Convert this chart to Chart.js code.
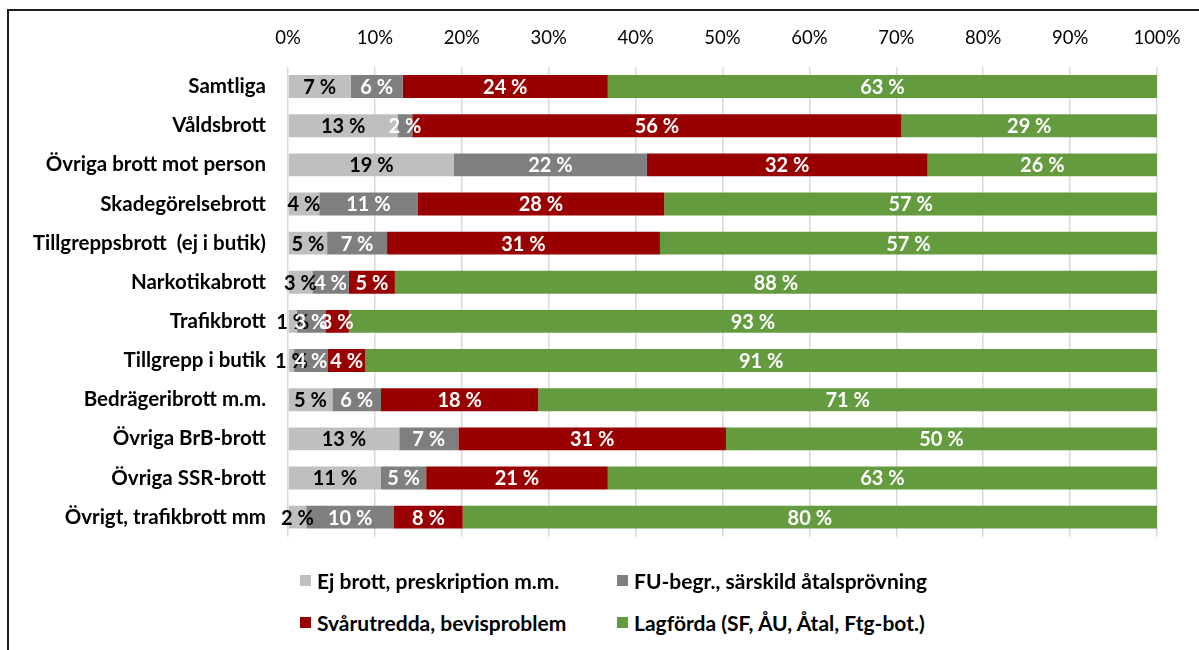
<!DOCTYPE html>
<html>
<head>
<meta charset="utf-8">
<script src="https://cdn.jsdelivr.net/npm/chart.js@4"></script>
<style>
  html, body { margin: 0; padding: 0; background: #fff; overflow: hidden; }
  #wrap { position: relative; width: 1199px; height: 650px; overflow: hidden; }
  #frame { position: absolute; left: 7px; top: 9px; width: 1400px; height: 900px; border: 2px solid #1e1e1e; box-sizing: border-box; }
  #c { position: absolute; left: 0; top: 0; }
  .lg { position: absolute; font-family: Lato, "Open Sans", sans-serif; font-weight: bold; font-size: 21px; color: #000; white-space: nowrap; line-height: 24px; }
  .lg span.box { position: absolute; left: 0; top: 6px; width: 11px; height: 11px; }
  .lg span.txt { position: absolute; left: 17px; top: 0; }
</style>
</head>
<body>
<div id="wrap">
  <div id="frame"></div>
  <canvas id="c" width="1199" height="571"></canvas>
  <div id="legend"></div>
</div>
<script>
const categories = [
  "Samtliga",
  "Våldsbrott",
  "Övriga brott mot person",
  "Skadegörelsebrott",
  "Tillgreppsbrott  (ej i butik)",
  "Narkotikabrott",
  "Trafikbrott",
  "Tillgrepp i butik",
  "Bedrägeribrott m.m.",
  "Övriga BrB-brott",
  "Övriga SSR-brott",
  "Övrigt, trafikbrott mm"
];
const seriesNames = [
  "Ej brott, preskription m.m.",
  "FU-begr., särskild åtalsprövning",
  "Svårutredda, bevisproblem",
  "Lagförda (SF, ÅU, Åtal, Ftg-bot.)"
];
const ejBrott     = [7.2, 12.6, 19.1, 3.6, 4.5, 2.8, 1.0, 0.7, 5.1, 12.8, 10.7, 2.1];
const fuBegr      = [6.0,  1.7, 22.2, 11.3, 6.9, 4.2, 3.3, 3.9, 5.6,  6.8,  5.2, 10.1];
const svarutredda = [23.6, 56.3, 32.3, 28.4, 31.4, 5.3, 2.7, 4.3, 18.1, 30.8, 20.9, 7.9];
const lagforda    = [63.2, 29.4, 26.4, 56.7, 57.2, 87.7, 93.0, 91.1, 71.2, 49.6, 63.2, 79.9];
const tickValues  = [0, 10, 20, 30, 40, 50, 60, 70, 80, 90, 100];

const colors = ["#BFBFBF", "#7F7F7F", "#990000", "#649B3F"];
const labelColors = ["#000000", "#ffffff", "#ffffff", "#ffffff"];
const seriesData = [ejBrott, fuBegr, svarutredda, lagforda];

const FONT = 'Lato, "Open Sans", sans-serif';

const dataLabelPlugin = {
  id: 'segLabels',
  afterDatasetsDraw(chart) {
    const ctx = chart.ctx;
    ctx.save();
    ctx.font = 'bold 20px ' + FONT;
    ctx.textAlign = 'center';
    ctx.textBaseline = 'middle';
    chart.data.datasets.forEach((ds, i) => {
      const meta = chart.getDatasetMeta(i);
      meta.data.forEach((el, j) => {
        const v = ds.data[j];
        const cx = (el.x + el.base) / 2;
        ctx.fillStyle = labelColors[i];
        ctx.fillText(Math.round(v) + ' %', cx, el.y + 1);
      });
    });
    ctx.restore();
  }
};

const chart = new Chart(document.getElementById('c'), {
  type: 'bar',
  data: {
    labels: categories,
    datasets: seriesData.map((d, i) => ({
      label: seriesNames[i],
      data: d,
      backgroundColor: colors[i],
      borderWidth: 0,
      categoryPercentage: 1.0,
      barPercentage: 0.585
    }))
  },
  options: {
    indexAxis: 'y',
    responsive: false,
    animation: false,
    layout: { padding: { left: 0, right: 42, top: 0, bottom: 0 } },
    plugins: {
      legend: { display: false },
      tooltip: { enabled: false }
    },
    scales: {
      x: {
        position: 'top',
        stacked: true,
        min: 0,
        max: 100,
        afterBuildTicks(scale) { scale.ticks = tickValues.map(v => ({ value: v })); },
        afterFit(scale) { scale.height = 67; },
        ticks: {
          callback: v => v + '%',
          color: '#000',
          padding: 18,
          maxRotation: 0,
          font: { family: FONT, size: 18.5 }
        },
        grid: { color: '#D9D9D9', lineWidth: 1.5, drawTicks: false },
        border: { display: false }
      },
      y: {
        stacked: true,
        afterFit(scale) { scale.width = 288; },
        ticks: {
          color: '#000',
          padding: 22,
          font: { family: FONT, size: 20.5, weight: 'bold' }
        },
        grid: { display: false, drawTicks: false },
        border: { display: false }
      }
    }
  },
  plugins: [dataLabelPlugin]
});

// HTML legend in 2x2 grid, built from the datasets
const legendPos = [[300, 569], [617, 569], [300, 611], [617, 611]];
const legendEl = document.getElementById('legend');
chart.data.datasets.forEach((ds, i) => {
  const d = document.createElement('div');
  d.className = 'lg';
  d.style.left = legendPos[i][0] + 'px';
  d.style.top = legendPos[i][1] + 'px';
  const b = document.createElement('span');
  b.className = 'box';
  b.style.background = ds.backgroundColor;
  const t = document.createElement('span');
  t.className = 'txt';
  t.textContent = ds.label;
  d.appendChild(b);
  d.appendChild(t);
  legendEl.appendChild(d);
});
</script>
</body>
</html>
